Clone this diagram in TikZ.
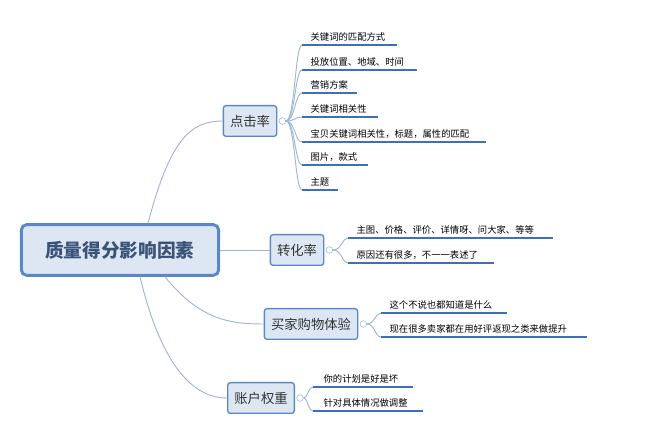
\documentclass[tikz,border=0pt]{standalone}
\usepackage{fontspec}
\setmainfont{Noto Sans CJK SC}
\usetikzlibrary{calc}
\definecolor{boxfill}{HTML}{DDE7F3}
\definecolor{boxline}{HTML}{5A88C6}
\definecolor{uline}{HTML}{3F6FB6}
\definecolor{conn}{HTML}{9DB5D8}
\definecolor{roottext}{HTML}{3A5378}
\tikzset{
	rootbox/.style={draw=boxline, line width=2.2pt, fill=boxfill, rounded corners=4pt, minimum width=148pt, minimum height=38pt, font=\fontsize{14}{16}\selectfont\bfseries, text=roottext},
	topic/.style={draw=boxline, line width=1pt, fill=boxfill, rounded corners=2pt, minimum height=23pt, inner xsep=5pt, font=\fontsize{10}{12}\selectfont, text=black!80},
	leaf/.style={anchor=south west, inner sep=1pt, font=\fontsize{7}{8}\selectfont},
	bar/.style={draw=uline, line width=1.3pt},
	link/.style={draw=conn, line width=0.7pt},
	knob/.style={circle, draw=conn, fill=white, inner sep=0pt, minimum size=5pt}
}
\begin{document}
\begin{tikzpicture}[x=0.75pt, y=-0.75pt]
	\useasboundingbox (0,0) rectangle (650,434);
	\node [rootbox] (root) at (120,250) {质量得分影响因素};
	\node [topic] (click) at (250,121) {点击率};
	\node [topic] (conv) at (297,250) {转化率};
	\node [topic] (buy) at (311,324) {买家购物体验};
	\node [topic] (acct) at (261,398) {账户权重};
	% branches from the root
	\draw [link] (root.north) ++(28,0) coordinate (r1) .. controls (170,140) and (190,121) .. (click.west);
	\draw [link] (root.east) -- (conv.west);
	\draw [link] (root.south) ++(45,0) coordinate (r2) .. controls (200,320) and (230,324) .. (buy.west);
	\draw [link] (root.south) ++(20,0) coordinate (r3) .. controls (160,360) and (190,398) .. (acct.west);
	% 点击率
	\node [knob] (kc) at ($(click.east)+(5,0)$) {};
	\foreach \y/\e/\t [count=\i] in {45/397/关键词的匹配方式, 70/417/投放位置、地域、时间, 93/357/营销方案, 117/378/关键词相关性, 142/486/宝贝关键词相关性，标题，属性的匹配, 165/368/图片，款式, 190/338/主题}{
		\coordinate (cs\i) at (302,\y);
		\coordinate (ce\i) at (\e,\y);
		\draw [link] (kc.east) .. controls (295,121) and (295,\y) .. (cs\i);
		\draw [bar] (cs\i) -- (ce\i);
		\node [leaf] (ct\i) at ($(cs\i)+(7,-2)$) {\t};
	}
	% 转化率
	\node [knob] (kv) at ($(conv.east)+(5,0)$) {};
	\foreach \y/\e/\t [count=\i] in {238/553/主图、价格、评价、详情呀、问大家、等等, 263/494/原因还有很多，不一一表述了}{
		\coordinate (vs\i) at (348,\y);
		\coordinate (ve\i) at (\e,\y);
		\draw [link] (kv.east) .. controls (342,250) and (342,\y) .. (vs\i);
		\draw [bar] (vs\i) -- (ve\i);
		\node [leaf] (vt\i) at ($(vs\i)+(7,-2)$) {\t};
	}
	% 买家购物体验
	\node [knob] (kb) at ($(buy.east)+(5,0)$) {};
	\foreach \y/\e/\t [count=\i] in {313/507/这个不说也都知道是什么, 337/587/现在很多卖家都在用好评返现之类来做提升}{
		\coordinate (bs\i) at (381,\y);
		\coordinate (be\i) at (\e,\y);
		\draw [link] (kb.east) .. controls (375,324) and (375,\y) .. (bs\i);
		\draw [bar] (bs\i) -- (be\i);
		\node [leaf] (bt\i) at ($(bs\i)+(7,-2)$) {\t};
	}
	% 账户权重
	\node [knob] (ka) at ($(acct.east)+(5,0)$) {};
	\foreach \y/\e/\t [count=\i] in {387/413/你的计划是好是坏, 411/423/针对具体情况做调整}{
		\coordinate (as\i) at (313,\y);
		\coordinate (ae\i) at (\e,\y);
		\draw [link] (ka.east) .. controls (308,398) and (308,\y) .. (as\i);
		\draw [bar] (as\i) -- (ae\i);
		\node [leaf] (at\i) at ($(as\i)+(9,-2)$) {\t};
	}
\end{tikzpicture}
\end{document}
